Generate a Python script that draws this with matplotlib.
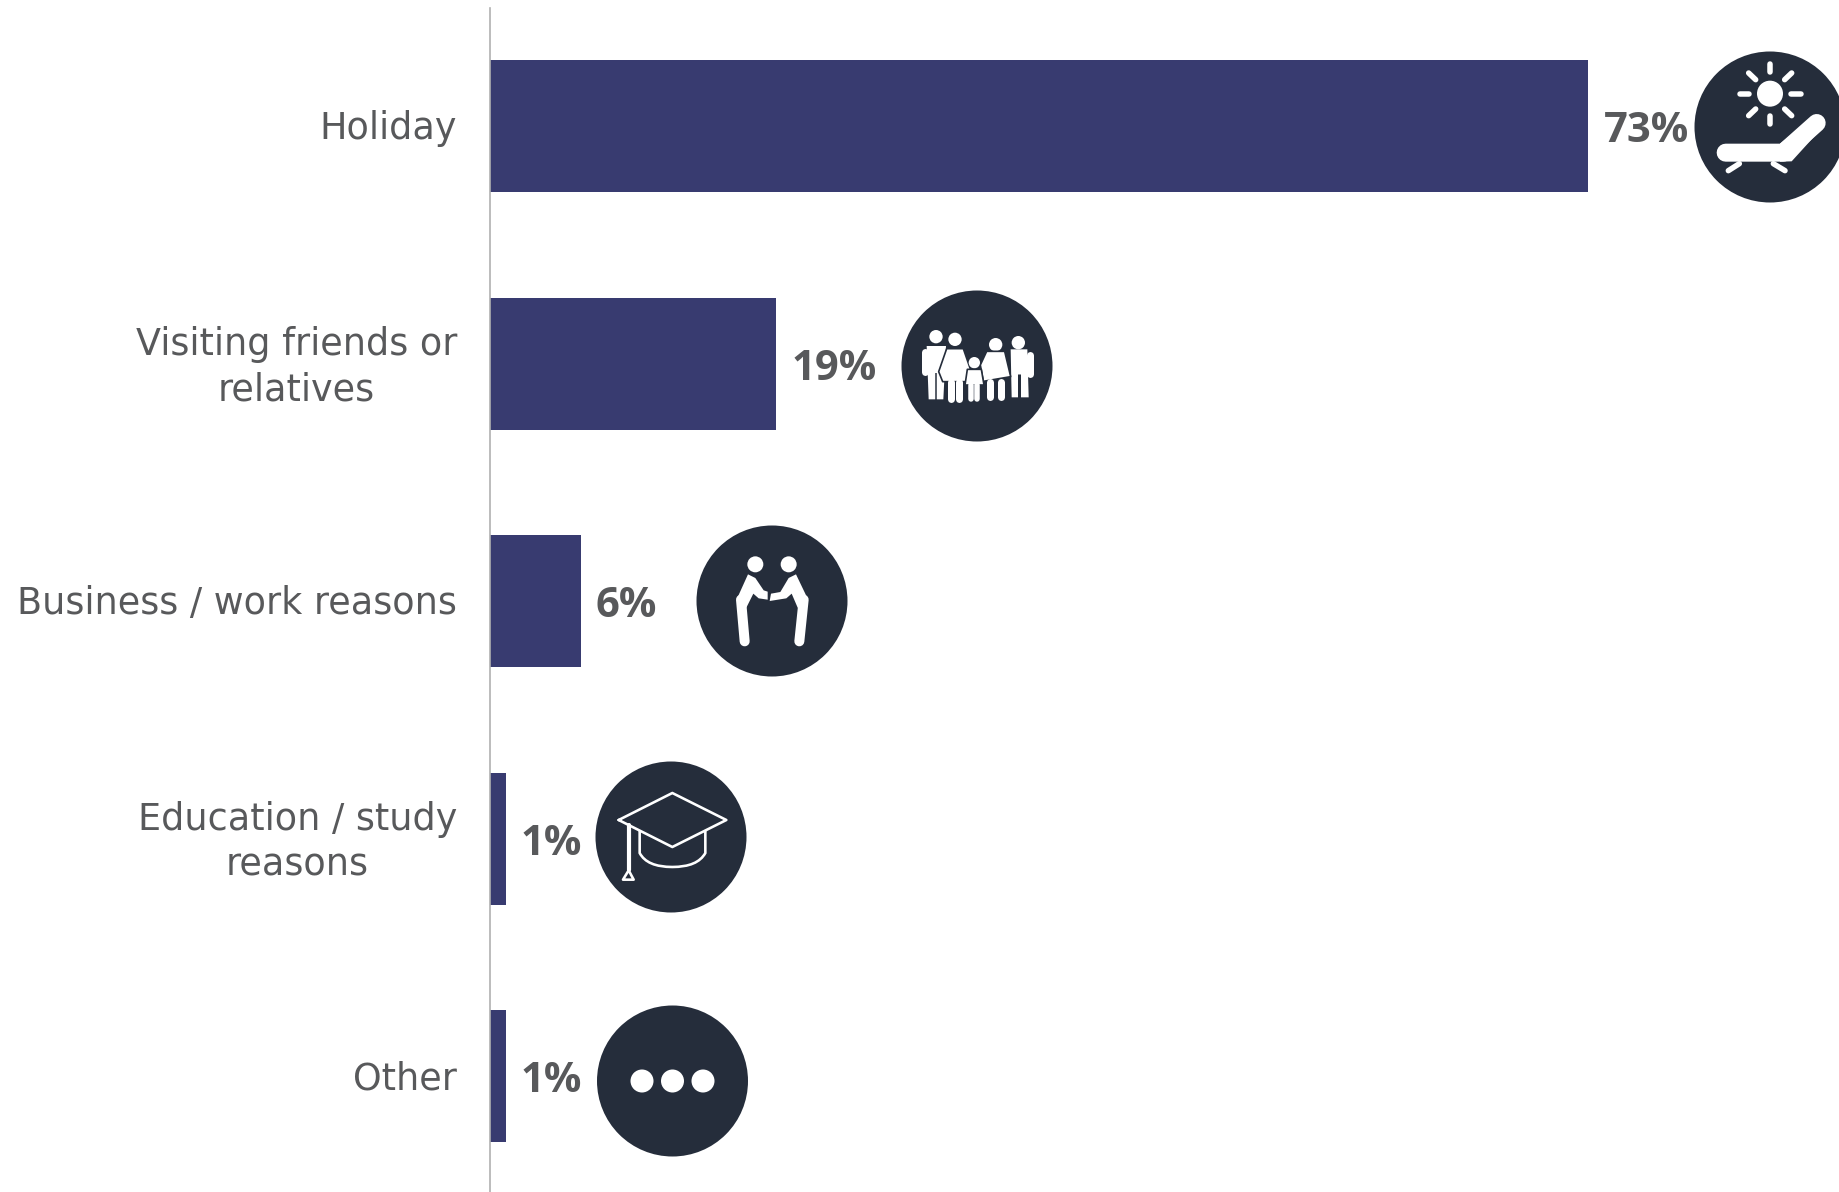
import matplotlib
matplotlib.use('Agg')
import matplotlib.pyplot as plt
from matplotlib.patches import Circle, Polygon, PathPatch
from matplotlib.path import Path
from matplotlib.transforms import offset_copy

categories = ['Holiday', 'Visiting friends or\nrelatives', 'Business / work reasons',
              'Education / study\nreasons', 'Other']
values = [73, 19, 6, 1, 1]
value_labels = ['73%', '19%', '6%', '1%', '1%']

BAR_COLOR = '#383B70'
ICON_COLOR = '#252D3B'
TEXT_COLOR = '#58595B'
W, H = 1840, 1192
X0 = 490.5
PX_PER_PCT = 15.04
Y0 = 126
ROW = 237.5

fig = plt.figure(figsize=(W / 100, H / 100), dpi=100)
ax = fig.add_axes([X0 / W, 0, 1 - X0 / W, 1])
ax.set_xlim(0, (W - X0) / PX_PER_PCT)
ax.set_ylim((H - Y0) / ROW, -Y0 / ROW)

ypos = list(range(len(categories)))
ax.barh(ypos, values, height=132 / ROW, color=BAR_COLOR)
ax.set_yticks(ypos)
ax.set_yticklabels(categories, fontfamily='DejaVu Sans', fontsize=26.3, color=TEXT_COLOR,
                   ma='center', linespacing=1.32)
ax.tick_params(axis='y', length=0, pad=24)
ax.xaxis.set_visible(False)
for side in ['top', 'right', 'bottom']:
    ax.spines[side].set_visible(False)
ax.spines['left'].set_color('#B0B0B0')
ax.spines['left'].set_linewidth(1.2)
ax.spines['left'].set_bounds(-118 / ROW, (H - Y0) / ROW)

# nudge the tick labels up, two-line ones sit a bit low otherwise
for lab in ax.get_yticklabels():
    up = 3.5 if '\n' in lab.get_text() else 1
    lab.set_transform(offset_copy(lab.get_transform(), fig=fig, y=up, units='points'))

for y, v, lab in zip(ypos, values, value_labels):
    ax.annotate(lab, (v, y), xytext=(10.8, -4), textcoords='offset points', ha='left', va='center',
                fontfamily='Open Sans', fontweight='bold', fontsize=30, color=TEXT_COLOR)

# icons live on a pixel overlay
ov = fig.add_axes([0, 0, 1, 1], facecolor='none')
ov.set_xlim(0, W)
ov.set_ylim(H, 0)
ov.axis('off')


def to_px(pts, ox, oy, cx, cy):
    # zoom crop units (3x) relative to the circle centre in the crop
    return [(cx + (x - ox) / 3, cy + (y - oy) / 3) for x, y in pts]


def stroke(pts, lw, ox, oy, cx, cy, color='white', cap='round'):
    xy = to_px(pts, ox, oy, cx, cy)
    ov.plot([p[0] for p in xy], [p[1] for p in xy], color=color, lw=lw * 0.72,
            solid_capstyle=cap, solid_joinstyle='round')


def disc(x, y, r, ox, oy, cx, cy, color='white'):
    p = to_px([(x, y)], ox, oy, cx, cy)[0]
    ov.add_patch(Circle(p, r / 3, color=color, lw=0))


def poly(pts, ox, oy, cx, cy, ec='none'):
    ov.add_patch(Polygon(to_px(pts, ox, oy, cx, cy), closed=True, fc='white', ec=ec, lw=1.2,
                         joinstyle='round'))


def holiday(cx, cy):
    c = (330, 292, cx, cy)
    disc(330, 192, 39, *c)
    for a, b in [((330, 102), (330, 126)), ((330, 258), (330, 284)),
                 ((240, 192), (268, 192)), ((392, 192), (422, 192)),
                 ((266, 130), (287, 150)), ((395, 130), (374, 150)),
                 ((266, 258), (287, 238)), ((395, 258), (374, 238))]:
        stroke([a, b], 5.5, *c)
    stroke([(197, 369), (370, 369), (470, 280)], 18, *c)
    poly([(360, 342), (470, 255), (495, 285), (395, 395), (360, 396)], *c)
    stroke([(238, 402), (205, 423)], 5.5, *c)
    stroke([(340, 402), (375, 423)], 5.5, *c)


def family(cx, cy):
    c = (291, 288, cx, cy)
    dark = ICON_COLOR
    # left man
    disc(168, 200, 20, *c)
    poly([(140, 228), (198, 228), (190, 388), (146, 388)], *c)
    stroke([(135, 245), (135, 305)], 7, *c)
    stroke([(169, 310), (169, 390)], 1.5, *c, color=dark, cap='butt')
    # right man
    disc(415, 218, 20, *c)
    poly([(392, 238), (442, 238), (446, 382), (395, 382)], *c)
    stroke([(449, 255), (449, 312)], 7, *c)
    stroke([(418, 312), (418, 384)], 3, *c, color=dark, cap='butt')
    # left woman
    disc(225, 208, 20, *c)
    poly([(200, 236), (250, 236), (272, 300), (268, 335), (188, 335), (176, 305)], *c, ec=dark)
    stroke([(214, 335), (214, 386)], 7, *c)
    stroke([(236, 335), (236, 386)], 7, *c)
    # right woman
    disc(347, 224, 20, *c)
    poly([(320, 244), (374, 244), (392, 320), (310, 334), (301, 285)], *c, ec=dark)
    stroke([(331, 335), (331, 382)], 7, *c)
    stroke([(362, 335), (362, 382)], 7, *c)
    # child
    disc(283, 278, 17, *c)
    poly([(262, 298), (304, 298), (312, 345), (255, 345)], *c, ec=dark)
    stroke([(274, 345), (274, 386)], 5.5, *c)
    stroke([(292, 345), (292, 386)], 5.5, *c)


def handshake(cx, cy):
    c = (275, 272, cx, cy)
    disc(225, 162, 24, *c)
    disc(325, 162, 24, *c)
    stroke([(193, 393), (182, 268)], 10, *c)
    poly([(203, 192), (225, 203), (250, 240), (262, 244), (262, 268), (235, 264), (219, 250),
          (198, 292), (170, 265)], *c)
    stroke([(357, 393), (370, 268)], 10, *c)
    poly([(347, 192), (325, 203), (300, 245), (272, 250), (268, 272), (318, 264), (334, 250),
          (352, 292), (382, 265)], *c)


def grad_cap(cx, cy):
    c = (272, 262, cx, cy)
    lw = 2.6
    stroke([(115, 211), (276, 130), (438, 211), (276, 292), (115, 211)], lw, *c)
    stroke([(145, 225), (145, 360)], lw * 1.6, *c)
    stroke([(145, 362), (128, 390), (160, 390), (145, 362)], lw, *c)
    pts = to_px([(178, 243), (178, 310), (200, 352), (276, 352), (352, 352), (375, 310), (375, 243)], *c)
    codes = [Path.MOVETO, Path.LINETO, Path.CURVE3, Path.CURVE3, Path.CURVE3, Path.CURVE3, Path.LINETO]
    ov.add_patch(PathPatch(Path(pts, codes), fc='none', ec='white', lw=lw * 0.72))


def dots(cx, cy):
    for dx in (-30.5, 0, 30.5):
        ov.add_patch(Circle((cx + dx, cy), 11.5, color='white', lw=0))


icons = [(holiday, 1770, 127), (family, 977, 366), (handshake, 772, 601),
         (grad_cap, 671, 837), (dots, 672.5, 1081)]
for fn, cx, cy in icons:
    ov.add_patch(Circle((cx, cy), 75.5, color=ICON_COLOR, lw=0))
    fn(cx, cy)

ov.set_xlim(0, W)
ov.set_ylim(H, 0)
fig.savefig('out.png', dpi=100)
